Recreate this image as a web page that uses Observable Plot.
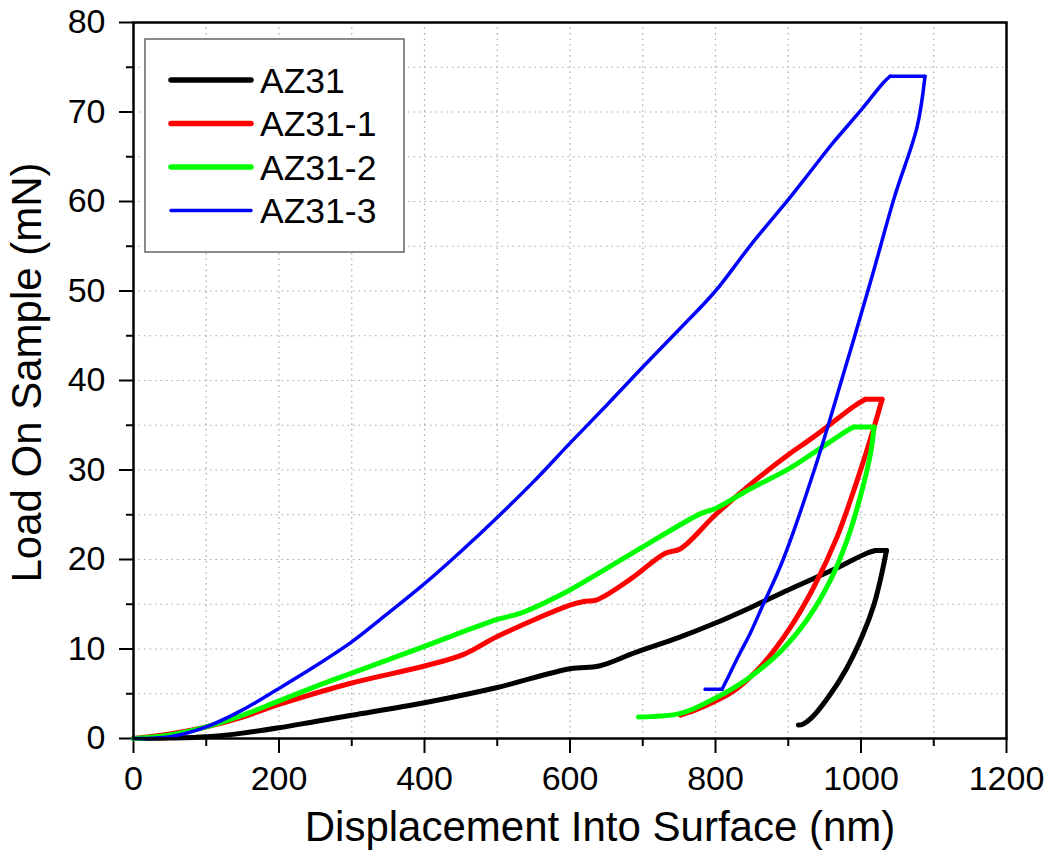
<!DOCTYPE html>
<html>
<head>
<meta charset="utf-8">
<script src="https://cdn.jsdelivr.net/npm/d3@7"></script>
<script src="https://cdn.jsdelivr.net/npm/@observablehq/plot@0.6"></script>
<style>
  body { margin: 0; background: #fff; }
  #chart { position: relative; width: 1050px; height: 853px; }
</style>
</head>
<body>
<div id="chart"></div>
<script>
// ---- Data ----
const seriesNames = ["AZ31", "AZ31-1", "AZ31-2", "AZ31-3"];
const seriesColors = ["#000000", "#ff0000", "#00ff00", "#0000ff"];

const az31X = [0, 50, 100, 150, 200, 250, 300, 400, 500, 600, 640, 683, 700, 750, 800, 850, 900, 963, 1008, 1020, 1035, 1029, 1018, 1002, 980, 955, 932, 920, 914];
const az31Y = [0, 0.05, 0.2, 0.6, 1.2, 1.9, 2.6, 4.0, 5.7, 7.8, 8.1, 9.4, 9.9, 11.3, 12.9, 14.7, 16.6, 18.9, 20.7, 21.0, 21.0, 18.6, 15.0, 11.5, 7.8, 4.6, 2.3, 1.6, 1.5];

const az31_1X = [0, 50, 100, 150, 200, 300, 400, 454, 500, 600, 619, 637, 683, 731, 752, 800, 848, 900, 935, 990, 1006, 1029, 1018, 995, 967, 935, 902, 866, 825, 779, 752];
const az31_1Y = [0, 0.5, 1.3, 2.4, 3.8, 6.2, 8.1, 9.4, 11.4, 14.9, 15.3, 15.5, 17.8, 20.7, 21.2, 25.0, 28.4, 31.7, 33.7, 37.1, 37.9, 37.9, 34.8, 28.9, 22.5, 16.9, 12.3, 8.4, 5.3, 3.4, 2.6];

const az31_2X = [0, 50, 100, 150, 200, 250, 300, 400, 500, 532, 600, 642, 700, 779, 800, 848, 900, 940, 981, 990, 1018, 1013, 999, 981, 958, 926, 889, 843, 797, 752, 694];
const az31_2Y = [0, 0.4, 1.3, 2.6, 4.2, 5.8, 7.3, 10.3, 13.3, 14.0, 16.6, 18.6, 21.4, 25.1, 25.7, 27.9, 30.1, 32.2, 34.4, 34.8, 34.8, 31.8, 27.0, 22.2, 17.7, 13.3, 9.7, 6.6, 4.4, 2.8, 2.4];

const az31_3X = [0, 50, 100, 150, 200, 250, 300, 350, 400, 450, 500, 550, 600, 650, 700, 750, 800, 850, 900, 930, 962, 1000, 1031, 1040, 1088, 1077, 1046, 1013, 975, 937, 893, 864, 848, 834, 820, 809, 786];
const az31_3Y = [0, 0.2, 1.3, 3.2, 5.6, 8.1, 10.8, 14.0, 17.3, 20.9, 24.7, 28.7, 33.0, 37.2, 41.5, 45.7, 50.0, 55.3, 60.2, 63.3, 66.6, 70.2, 73.3, 74.0, 74.0, 68.3, 60.5, 51.0, 40.5, 30.3, 20.0, 14.7, 11.8, 9.6, 7.3, 5.5, 5.5];

const xMajorTicks = [0, 200, 400, 600, 800, 1000, 1200];
const xMinorTicks = [100, 300, 500, 700, 900, 1100];
const yMajorTicks = [0, 10, 20, 30, 40, 50, 60, 70, 80];
const yMinorTicks = [5, 15, 25, 35, 45, 55, 65, 75];
const xTitle = "Displacement Into Surface (nm)";
const yTitle = "Load On Sample (mN)";

// ---- Build table: split each curve at flat (constant-load) runs so that
//      the smooth curve keeps sharp corners at the hold segments ----
const seriesX = [az31X, az31_1X, az31_2X, az31_3X];
const seriesY = [az31Y, az31_1Y, az31_2Y, az31_3Y];
const seriesWidth = [5, 5, 5, 3.5];
const tables = seriesNames.map((name, i) => {
  const xs = seriesX[i], ys = seriesY[i];
  const rows = [];
  let seg = 0;
  let flat = false;
  for (let j = 0; j < xs.length; j++) {
    const nextFlat = j + 1 < xs.length && ys[j + 1] === ys[j];
    if (nextFlat !== flat && j > 0) {
      rows.push({ series: name, seg, x: xs[j], y: ys[j] });
      seg++;
    }
    flat = nextFlat;
    rows.push({ series: name, seg, x: xs[j], y: ys[j] });
  }
  return rows;
});

const gridX = xMajorTicks.concat(xMinorTicks).filter(v => v > 0 && v < 1200);
const gridY = yMajorTicks.concat(yMinorTicks).filter(v => v > 0 && v < 80);

const font = "'Liberation Sans', Arial, Helvetica, sans-serif";
const plain = d => String(d);

const plot = Plot.plot({
  width: 1050,
  height: 853,
  marginLeft: 133,
  marginRight: 44,
  marginTop: 22,
  marginBottom: 115,
  style: { fontFamily: font, background: "#fff", color: "#000" },
  x: { domain: [0, 1200] },
  y: { domain: [0, 80] },
  color: { domain: seriesNames, range: seriesColors },
  marks: [
    Plot.gridX(gridX, { stroke: "#a8a8a8", strokeOpacity: 1, strokeWidth: 1.2, strokeDasharray: "1.5,4" }),
    Plot.gridY(gridY, { stroke: "#a8a8a8", strokeOpacity: 1, strokeWidth: 1.2, strokeDasharray: "1.5,4" }),
    Plot.axisX(xMinorTicks, { tickSize: 8, strokeWidth: 2, tickFormat: () => "", label: null }),
    Plot.axisX(xMajorTicks, { tickSize: 15, strokeWidth: 2, tickPadding: 12, fontSize: 34, tickFormat: plain, label: null }),
    Plot.axisY(yMinorTicks, { tickSize: 7, strokeWidth: 2, tickFormat: () => "", label: null }),
    Plot.axisY(yMajorTicks, { tickSize: 14, strokeWidth: 2, tickPadding: 14, fontSize: 34, tickFormat: plain, label: null }),
    ...tables.map((t, i) => Plot.line(t, {
      x: "x", y: "y", z: "seg", stroke: "series", strokeWidth: seriesWidth[i],
      curve: "catmull-rom", strokeLinejoin: "round", strokeLinecap: "round"
    })),
    Plot.frame({ stroke: "#000", strokeWidth: 2.5 }),
    Plot.text([xTitle], { frameAnchor: "bottom", lineAnchor: "bottom", textAnchor: "middle", dy: 102, dx: 30, fontSize: 42, fill: "#000" }),
    Plot.text([yTitle], { frameAnchor: "left", lineAnchor: "middle", textAnchor: "middle", rotate: -90, dx: -106, dy: -8, fontSize: 42, fill: "#000" })
  ]
});

document.getElementById("chart").appendChild(plot);

// ---- Legend (inside the plot frame, upper left) ----
const svg = d3.select(plot);
const lg = svg.append("g").attr("font-family", font).attr("text-anchor", "start");
lg.append("rect")
  .attr("x", 145).attr("y", 39).attr("width", 259).attr("height", 213)
  .attr("fill", "#fff").attr("stroke", "#666").attr("stroke-width", 1.5);
seriesNames.forEach((name, i) => {
  const y = 80 + i * 43.5;
  lg.append("line")
    .attr("x1", 171).attr("x2", 251).attr("y1", y).attr("y2", y)
    .attr("stroke", seriesColors[i]).attr("stroke-width", seriesWidth[i] + (i < 3 ? 0.5 : 0))
    .attr("stroke-linecap", "round");
  lg.append("text")
    .attr("x", 260).attr("y", y).attr("dy", "0.36em")
    .attr("text-anchor", "start")
    .attr("font-size", 35.5).attr("fill", "#000")
    .text(name);
});
</script>
</body>
</html>
